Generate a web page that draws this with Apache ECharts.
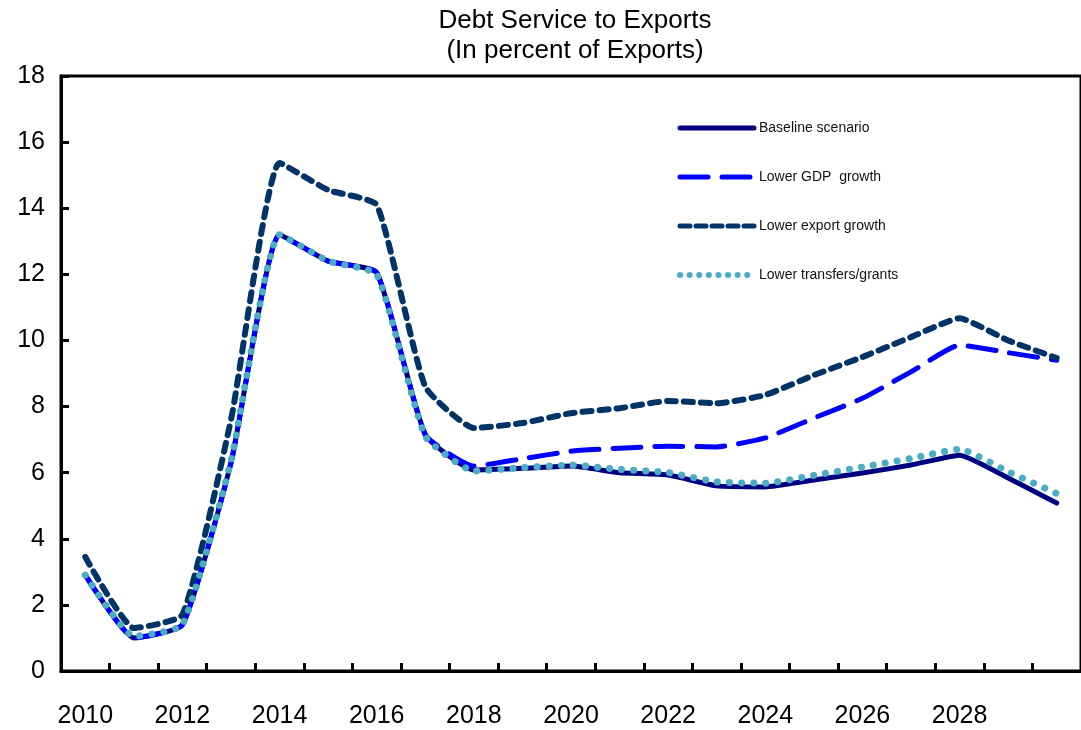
<!DOCTYPE html>
<html>
<head>
<meta charset="utf-8">
<script src="https://cdn.jsdelivr.net/npm/echarts@6/dist/echarts.min.js"></script>
<style>html,body{margin:0;padding:0;background:#fff;}#c{width:1081px;height:730px;}</style>
</head>
<body>
<div id="c"></div>
<script>
const years = ['2010','2011','2012','2013','2014','2015','2016','2017','2018','2019','2020','2021','2022','2023','2024','2025','2026','2027','2028','2029','2030'];
const baseline = [2.9,1.0,1.4,6.3,13.2,12.4,12.05,7.15,6.08,6.13,6.2,6.0,5.93,5.6,5.57,5.78,5.99,6.23,6.53,5.84,5.08];
const lowerGDP = [2.9,1.0,1.4,6.3,13.2,12.4,12.05,7.15,6.2,6.42,6.65,6.74,6.8,6.78,7.05,7.65,8.25,9.05,9.86,9.63,9.4];
const lowerExport = [3.45,1.3,1.7,7.6,15.37,14.55,14.1,8.6,7.35,7.5,7.8,7.95,8.17,8.1,8.35,8.95,9.5,10.1,10.67,10.0,9.47];
const lowerTransfers = [2.9,1.05,1.4,6.35,13.2,12.4,12.0,7.1,6.05,6.15,6.23,6.1,6.0,5.72,5.68,5.92,6.17,6.43,6.71,6.03,5.37];
const names = ['Baseline scenario','Lower GDP  growth','Lower export growth','Lower transfers/grants'];

const styles = [
  {color: '#000080', width: 5, type: 'solid'},
  {color: '#0000FF', width: 5, type: [28, 14]},
  {color: '#003366', width: 6, type: [9, 8]},
  {color: '#4BACC6', width: 7, type: [0.1, 12]}
];
const dataSets = [baseline, lowerGDP, lowerExport, lowerTransfers];

const chart = echarts.init(document.getElementById('c'));
const font = 'Liberation Sans, Arial, sans-serif';
chart.setOption({
  animation: false,
  backgroundColor: '#fff',
  title: {
    text: 'Debt Service to Exports\n(In percent of Exports)',
    left: 570, top: 1, textAlign: 'center',
    textStyle: {fontFamily: font, fontSize: 26, fontWeight: 'normal', color: '#000', lineHeight: 30}
  },
  legend: {
    orient: 'vertical', left: 672, top: 116,
    itemWidth: 74, itemHeight: 14, itemGap: 35,
    textStyle: {fontFamily: font, fontSize: 14, color: '#111'},
    data: names.map((n, i) => ({
      name: n,
      itemStyle: {opacity: 0},
      lineStyle: {width: i === 3 ? 6 : 5, type: i === 3 ? [0.1, 9.5] : (i === 2 ? [10, 6] : styles[i].type), cap: 'round', color: styles[i].color}
    }))
  },
  grid: {left: 61, right: -3, top: 76, bottom: 59, show: true, borderColor: '#000', borderWidth: 3},
  xAxis: {
    type: 'category', data: years, boundaryGap: true,
    axisLine: {lineStyle: {color: '#000', width: 3}},
    axisTick: {show: true, inside: true, length: 8, interval: 0, lineStyle: {color: '#000', width: 3}},
    axisLabel: {
      interval: 0,
      formatter: (v, i) => (i % 2 === 0 && v !== '2030') ? v : '',
      fontFamily: font, fontSize: 25, color: '#000', margin: 33
    }
  },
  yAxis: {
    type: 'value', min: 0, max: 18, interval: 2,
    splitLine: {show: false},
    axisLine: {show: true, lineStyle: {color: '#000', width: 3}},
    axisTick: {show: true, inside: true, length: 8, lineStyle: {color: '#000', width: 3}},
    axisLabel: {fontFamily: font, fontSize: 25, color: '#000', margin: 16}
  },
  series: dataSets.map((d, i) => ({
    name: names[i], type: 'line', data: d, symbol: 'none', smooth: 0.15, z: 2 + i,
    lineStyle: {color: styles[i].color, width: styles[i].width, type: styles[i].type, cap: 'round', join: 'round'},
    itemStyle: {color: styles[i].color}
  }))
});
</script>
</body>
</html>
